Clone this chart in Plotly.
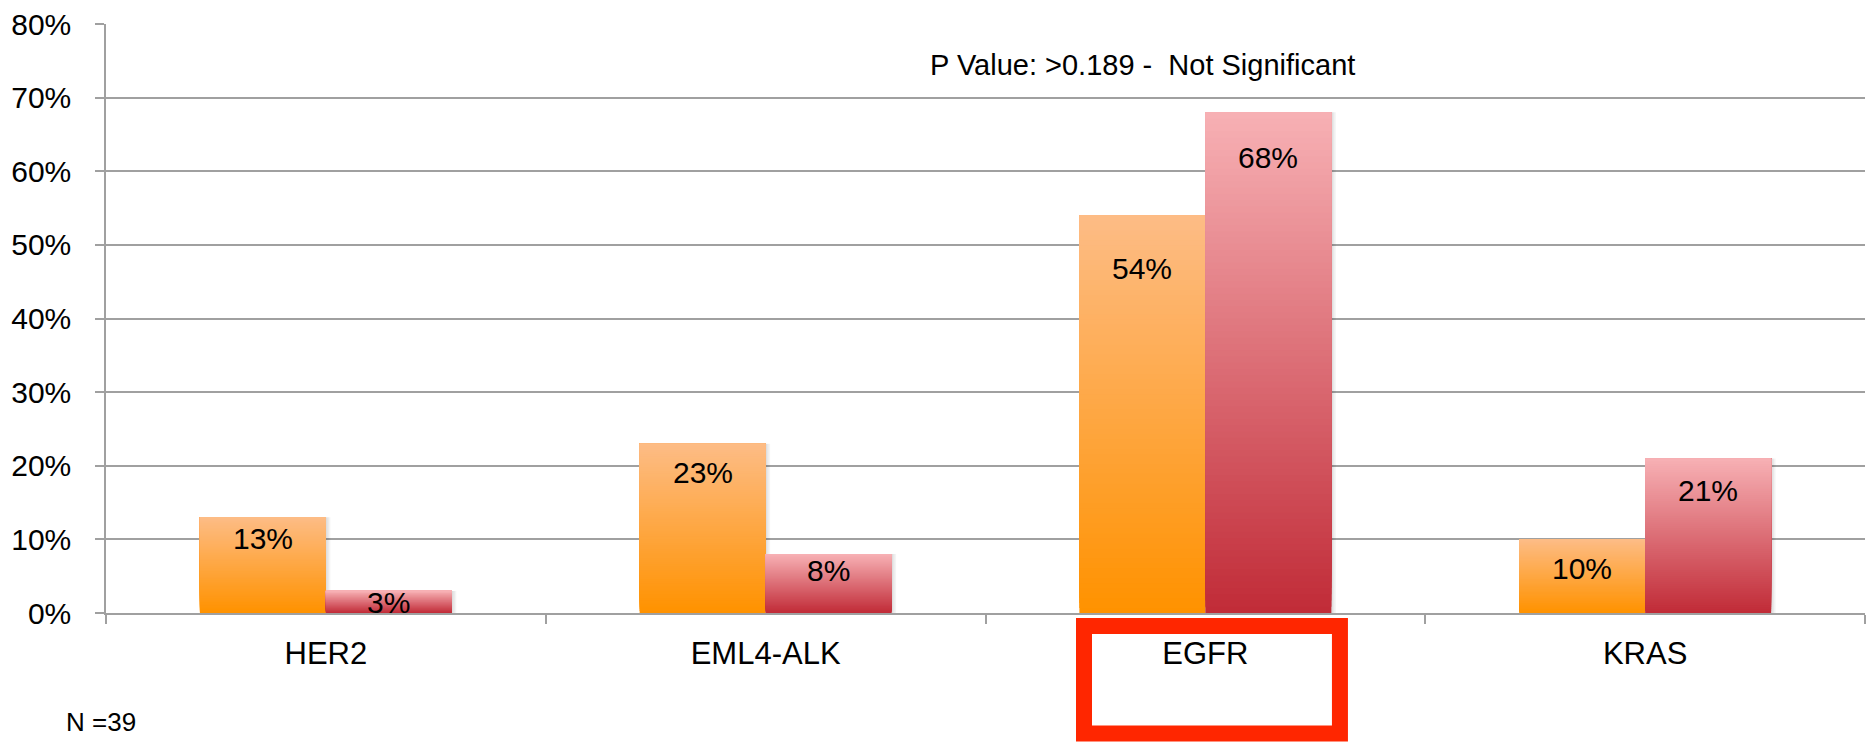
import plotly.graph_objects as go

# Mutation frequency by gene, two cohorts
genes = ["HER2", "EML4-ALK", "EGFR", "KRAS"]
cohort_a = [0.13, 0.23, 0.54, 0.10]   # orange series
cohort_b = [0.03, 0.08, 0.68, 0.21]   # red series
y_ticks = [0.0, 0.1, 0.2, 0.3, 0.4, 0.5, 0.6, 0.7, 0.8]
p_value_note = "P Value: >0.189 -&nbsp; Not Significant"
sample_note = "N =39"
highlight_gene = "EGFR"

FONT = "Liberation Sans, Arial, Helvetica, sans-serif"
GRID = "#A0A0A0"

# layout geometry (plot area in pixels)
W, H = 1872, 742
M_L, M_R, M_T, M_B = 106, 7, 21, 129
plot_w = W - M_L - M_R
plot_h = H - M_T - M_B
cat_px = plot_w / len(genes)

BAR_W = 0.2865          # width of one bar, in category units
N_SLICES = 80           # vertical gradient resolution

# gradient stops: (bottom, top)
ORANGE = ((255, 146, 0), (253, 188, 133))
RED = ((193, 44, 56), (247, 176, 180))


def mix(stops, t):
    lo, hi = stops
    r, g, b = (round(lo[i] + (hi[i] - lo[i]) * t) for i in range(3))
    return f"rgb({r},{g},{b})"


fig = go.Figure()

# soft drop shadow on the right side of each bar
for values, off in ((cohort_a, -BAR_W), (cohort_b, 0.0)):
    for dx in (1.5, 3.0, 4.5):
        fig.add_trace(go.Bar(
            x=genes, y=values, base=0,
            offset=off + dx / cat_px, width=BAR_W,
            marker=dict(color="rgba(0,0,0,0.045)", line=dict(width=0)),
            hoverinfo="skip", showlegend=False,
        ))

# gradient bars: each slice runs from its own start to the bar top,
# later slices overlay earlier ones so no seams show
for values, off, stops in ((cohort_a, -BAR_W, ORANGE), (cohort_b, 0.0, RED)):
    for k in range(N_SLICES):
        fig.add_trace(go.Bar(
            x=genes,
            base=[v * k / N_SLICES for v in values],
            y=[v * (N_SLICES - k) / N_SLICES for v in values],
            offset=off, width=BAR_W,
            marker=dict(color=mix(stops, k / (N_SLICES - 1)), line=dict(width=0)),
            hoverinfo="skip", showlegend=False,
        ))

# value labels placed inside the bars, just below the top edge
label_drop_a = [21, 29, 53, 29]
label_drop_b = [12, 16, 45, 32]
annotations = []
for values, drops, dx in ((cohort_a, label_drop_a, -BAR_W / 2),
                          (cohort_b, label_drop_b, BAR_W / 2)):
    for i, (v, d) in enumerate(zip(values, drops)):
        annotations.append(dict(
            x=i + dx, y=v, xref="x", yref="y",
            text=f"{round(v * 100)}%", showarrow=False,
            xanchor="center", yanchor="middle", yshift=-d,
            font=dict(family=FONT, size=30, color="#000000"),
        ))

# significance note
annotations.append(dict(
    x=1.856, y=0.744, xref="x", yref="y", text=p_value_note,
    showarrow=False, xanchor="center", yanchor="middle",
    font=dict(family=FONT, size=29, color="#000000"),
))

# sample size note below the axis
annotations.append(dict(
    x=(64 - M_L) / plot_w, y=(M_T + plot_h - 740) / plot_h,
    xref="paper", yref="paper", text=sample_note, showarrow=False,
    xanchor="left", yanchor="bottom",
    font=dict(family=FONT, size=26, color="#000000"),
))

# red frame around the highlighted category label
hi = genes.index(highlight_gene)
shapes = [dict(
    type="rect", xref="x", yref="paper", layer="above",
    x0=hi - 0.276, x1=hi + 0.306,
    y0=(M_T + plot_h - 734) / plot_h, y1=(M_T + plot_h - 626) / plot_h,
    line=dict(color="#FF2600", width=16), fillcolor="rgba(0,0,0,0)",
)]

fig.update_layout(
    width=W, height=H,
    margin=dict(l=M_L, r=M_R, t=M_T, b=M_B, pad=0),
    paper_bgcolor="white", plot_bgcolor="white",
    barmode="overlay",
    showlegend=False,
    annotations=annotations,
    shapes=shapes,
    font=dict(family=FONT, color="#000000"),
    xaxis=dict(
        type="category", categoryarray=genes, categoryorder="array",
        range=[-0.5, len(genes) - 0.5],
        showgrid=False, zeroline=False,
        showline=True, linecolor=GRID, linewidth=1.5,
        ticks="outside", tickson="boundaries", ticklen=9,
        tickcolor=GRID, tickwidth=1.5,
        tickfont=dict(family=FONT, size=31, color="#000000"),
        ticklabelstandoff=12,
    ),
    yaxis=dict(
        range=[0, 0.8], tickvals=y_ticks, tickformat=".0%",
        showgrid=True, gridcolor=GRID, gridwidth=1.5,
        zeroline=False,
        showline=True, linecolor=GRID, linewidth=1.5,
        ticks="outside", ticklen=9, tickcolor=GRID, tickwidth=1.5,
        tickfont=dict(family=FONT, size=30, color="#000000"),
        ticklabelstandoff=18,
    ),
)

fig.write_html("out.html", config={"displayModeBar": False})
